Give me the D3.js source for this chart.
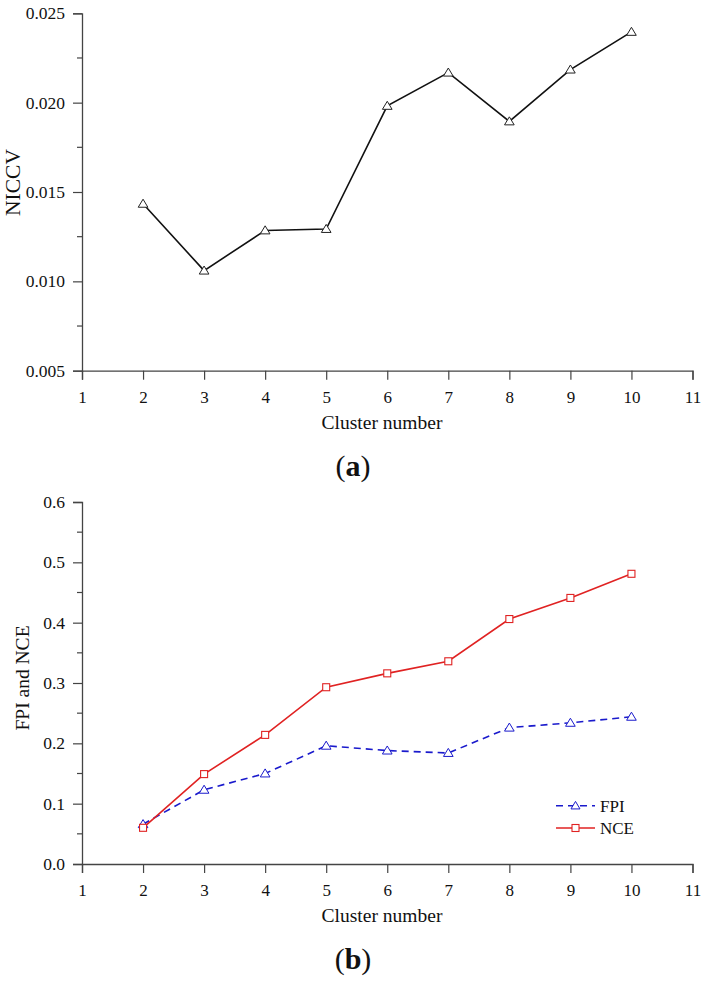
<!DOCTYPE html>
<html><head><meta charset="utf-8">
<script src="https://cdn.jsdelivr.net/npm/d3@7"></script>
<style>body{margin:0;background:#fff}svg{display:block}text{font-family:"Liberation Serif","Times New Roman",serif;fill:#111}</style>
</head><body>
<script>
const clusters = [2,3,4,5,6,7,8,9,10];
const niccv = [0.01434,0.01060,0.01285,0.01293,0.01982,0.02168,0.01895,0.02185,0.02396];
const fpi = [0.066,0.123,0.150,0.196,0.188,0.184,0.226,0.234,0.244];
const nce = [0.060,0.149,0.214,0.293,0.316,0.336,0.406,0.441,0.481];
const xTicks = [1,2,3,4,5,6,7,8,9,10,11];
const yTicksA = [0.005,0.010,0.015,0.020,0.025];
const yTicksB = [0,0.1,0.2,0.3,0.4,0.5,0.6];

const W=706,H=989;
const svg=d3.select("body").append("svg").attr("width",W).attr("height",H);
const axisColor="#444";

function tri(s){return `M0,${-s}L${s*1.05},${s*0.75}L${-s*1.05},${s*0.75}Z`;}

function panel(top,bottom,yDomain,yTicks,minorStep,fmt,ytitle,ytitleX,ytitleY,ytitleSize,letter){
  const x=d3.scaleLinear().domain([1,11]).range([82,692.5]);
  const y=d3.scaleLinear().domain(yDomain).range([bottom,top]);
  const g=svg.append("g");
  const xa=g.append("g").attr("transform",`translate(0,${bottom})`)
    .call(d3.axisBottom(x).tickValues(xTicks).tickSize(9).tickPadding(11).tickFormat(d3.format("d")));
  xa.select(".domain").attr("stroke",axisColor).attr("stroke-width",1.3);
  xa.selectAll(".tick line").attr("stroke",axisColor).attr("stroke-width",1.2);
  xa.selectAll("text").attr("font-size",17).style("font-family","Liberation Serif").attr("fill","#111");
  const ya=g.append("g").attr("transform",`translate(82,0)`)
    .call(d3.axisLeft(y).tickValues(yTicks).tickSize(9).tickPadding(8).tickFormat(fmt));
  ya.select(".domain").attr("stroke",axisColor).attr("stroke-width",1.3);
  ya.selectAll(".tick line").attr("stroke",axisColor).attr("stroke-width",1.2);
  ya.selectAll("text").attr("font-size",17.5).style("font-family","Liberation Serif").attr("fill","#111");
  const minors=d3.range(yDomain[0]+minorStep,yDomain[1],minorStep*2);
  g.selectAll(".minor").data(minors).enter().append("line")
    .attr("x1",77).attr("x2",82).attr("y1",d=>y(d)).attr("y2",d=>y(d))
    .attr("stroke",axisColor).attr("stroke-width",1.2);
  g.append("text").attr("x",382).attr("y",bottom+58).attr("text-anchor","middle")
    .attr("font-size",19.5).text("Cluster number");
  g.append("text").attr("transform",`translate(${ytitleX},${ytitleY}) rotate(-90)`)
    .attr("text-anchor","middle").attr("font-size",ytitleSize).text(ytitle);
  const lt=g.append("text").attr("x",353).attr("y",bottom+105).attr("text-anchor","middle").attr("font-size",30);
  lt.append("tspan").text("(");
  lt.append("tspan").attr("font-weight","bold").text(letter);
  lt.append("tspan").text(")");
  return {g,x,y};
}

// Panel (a)
const A=panel(13.3,370.7,[0.005,0.025],yTicksA,0.0025,d3.format(".3f"),"NICCV",19.5,182.5,21.5,"a");
A.g.append("path").datum(clusters.map((c,i)=>[c,niccv[i]]))
  .attr("d",d3.line().x(d=>A.x(d[0])).y(d=>A.y(d[1])))
  .attr("fill","none").attr("stroke","#111").attr("stroke-width",1.6);
A.g.selectAll(".ma").data(clusters.map((c,i)=>[c,niccv[i]])).enter().append("path")
  .attr("transform",d=>`translate(${A.x(d[0])},${A.y(d[1])})`).attr("d",tri(4.6))
  .attr("fill","#fff").attr("stroke","#222").attr("stroke-width",1);

// Panel (b)
const B=panel(502,864,[0,0.6],yTicksB,0.05,d3.format(".1f"),"FPI and NCE",28.5,678,19.5,"b");
const lineB=d3.line().x(d=>B.x(d[0])).y(d=>B.y(d[1]));
const fpiD=clusters.map((c,i)=>[c,fpi[i]]), nceD=clusters.map((c,i)=>[c,nce[i]]);
const blue="#1a1acc", red="#e02222";
B.g.append("path").datum(fpiD).attr("d",lineB).attr("fill","none").attr("stroke",blue)
  .attr("stroke-width",1.6).attr("stroke-dasharray","7,5");
B.g.append("path").datum(nceD).attr("d",lineB).attr("fill","none").attr("stroke",red).attr("stroke-width",1.6);
B.g.selectAll(".mf").data(fpiD).enter().append("path")
  .attr("transform",d=>`translate(${B.x(d[0])},${B.y(d[1])})`).attr("d",tri(4.6))
  .attr("fill","#fff").attr("stroke",blue).attr("stroke-width",1);
B.g.selectAll(".mn").data(nceD).enter().append("rect")
  .attr("x",d=>B.x(d[0])-3.5).attr("y",d=>B.y(d[1])-3.5).attr("width",7).attr("height",7)
  .attr("fill","#fff").attr("stroke",red).attr("stroke-width",1.1);

// legend
const lg=B.g.append("g");
const legend=[{name:"FPI",color:blue,dash:"7,5",y:805.7,shape:"tri"},{name:"NCE",color:red,dash:null,y:828,shape:"sq"}];
legend.forEach(l=>{
  lg.append("line").attr("x1",556).attr("x2",595).attr("y1",l.y).attr("y2",l.y)
    .attr("stroke",l.color).attr("stroke-width",1.6).attr("stroke-dasharray",l.dash);
  if(l.shape==="tri") lg.append("path").attr("transform",`translate(575.5,${l.y})`).attr("d",tri(4.3)).attr("fill","#fff").attr("stroke",l.color);
  else lg.append("rect").attr("x",572).attr("y",l.y-3.5).attr("width",7).attr("height",7).attr("fill","#fff").attr("stroke",l.color).attr("stroke-width",1.1);
  lg.append("text").attr("x",600).attr("y",l.y+6).attr("font-size",17).text(l.name);
});
</script>
</body></html>
